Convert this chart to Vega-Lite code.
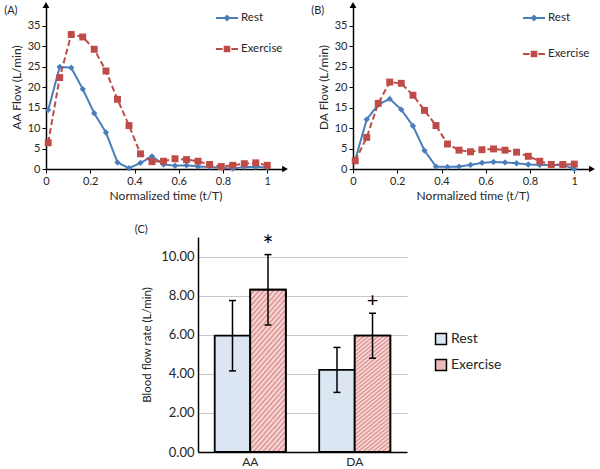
{
  "$schema": "https://vega.github.io/schema/vega-lite/v6.json",
  "padding": {"left": 4, "top": 2, "right": 1, "bottom": 2},
  "config": {
    "font": "Lato",
    "view": {"stroke": null},
    "axis": {"labelFont": "Lato", "titleFont": "Lato", "titleFontWeight": "normal", "labelColor": "#262626", "titleColor": "#262626", "domainColor": "#000", "tickColor": "#000", "domainWidth": 1.5, "labelOverlap": false},
    "legend": {"labelFont": "Lato", "labelColor": "#262626"},
    "title": {"font": "Lato", "fontWeight": "normal", "fontSize": 11, "color": "#262626"}
  },
  "datasets": {
    "flow": [
      {"panel": "AA", "series": "Rest", "t": 0.01, "v": 14.4},
      {"panel": "AA", "series": "Rest", "t": 0.062, "v": 24.9},
      {"panel": "AA", "series": "Rest", "t": 0.114, "v": 24.7},
      {"panel": "AA", "series": "Rest", "t": 0.166, "v": 19.5},
      {"panel": "AA", "series": "Rest", "t": 0.218, "v": 13.6},
      {"panel": "AA", "series": "Rest", "t": 0.271, "v": 8.9},
      {"panel": "AA", "series": "Rest", "t": 0.323, "v": 1.6},
      {"panel": "AA", "series": "Rest", "t": 0.375, "v": 0.2},
      {"panel": "AA", "series": "Rest", "t": 0.427, "v": 1.5},
      {"panel": "AA", "series": "Rest", "t": 0.479, "v": 3.1},
      {"panel": "AA", "series": "Rest", "t": 0.531, "v": 1.1},
      {"panel": "AA", "series": "Rest", "t": 0.583, "v": 0.8},
      {"panel": "AA", "series": "Rest", "t": 0.635, "v": 0.9},
      {"panel": "AA", "series": "Rest", "t": 0.687, "v": 0.6},
      {"panel": "AA", "series": "Rest", "t": 0.739, "v": 0.5},
      {"panel": "AA", "series": "Rest", "t": 0.792, "v": 0.3},
      {"panel": "AA", "series": "Rest", "t": 0.844, "v": 0.1},
      {"panel": "AA", "series": "Rest", "t": 0.896, "v": 0.5},
      {"panel": "AA", "series": "Rest", "t": 0.948, "v": 0.5},
      {"panel": "AA", "series": "Rest", "t": 1.0, "v": 0.4},
      {"panel": "AA", "series": "Exercise", "t": 0.01, "v": 6.4},
      {"panel": "AA", "series": "Exercise", "t": 0.062, "v": 22.3},
      {"panel": "AA", "series": "Exercise", "t": 0.114, "v": 32.8},
      {"panel": "AA", "series": "Exercise", "t": 0.166, "v": 32.2},
      {"panel": "AA", "series": "Exercise", "t": 0.218, "v": 29.2},
      {"panel": "AA", "series": "Exercise", "t": 0.271, "v": 23.9},
      {"panel": "AA", "series": "Exercise", "t": 0.323, "v": 17.0},
      {"panel": "AA", "series": "Exercise", "t": 0.375, "v": 10.6},
      {"panel": "AA", "series": "Exercise", "t": 0.427, "v": 3.7},
      {"panel": "AA", "series": "Exercise", "t": 0.479, "v": 1.8},
      {"panel": "AA", "series": "Exercise", "t": 0.531, "v": 1.9},
      {"panel": "AA", "series": "Exercise", "t": 0.583, "v": 2.5},
      {"panel": "AA", "series": "Exercise", "t": 0.635, "v": 2.3},
      {"panel": "AA", "series": "Exercise", "t": 0.687, "v": 1.9},
      {"panel": "AA", "series": "Exercise", "t": 0.739, "v": 1.1},
      {"panel": "AA", "series": "Exercise", "t": 0.792, "v": 0.6},
      {"panel": "AA", "series": "Exercise", "t": 0.844, "v": 0.9},
      {"panel": "AA", "series": "Exercise", "t": 0.896, "v": 1.3},
      {"panel": "AA", "series": "Exercise", "t": 0.948, "v": 1.5},
      {"panel": "AA", "series": "Exercise", "t": 1.0, "v": 0.9},
      {"panel": "DA", "series": "Rest", "t": 0.01, "v": 2.2},
      {"panel": "DA", "series": "Rest", "t": 0.062, "v": 12.1},
      {"panel": "DA", "series": "Rest", "t": 0.114, "v": 15.7},
      {"panel": "DA", "series": "Rest", "t": 0.166, "v": 17.1},
      {"panel": "DA", "series": "Rest", "t": 0.218, "v": 14.5},
      {"panel": "DA", "series": "Rest", "t": 0.271, "v": 10.5},
      {"panel": "DA", "series": "Rest", "t": 0.323, "v": 4.5},
      {"panel": "DA", "series": "Rest", "t": 0.375, "v": 0.6},
      {"panel": "DA", "series": "Rest", "t": 0.427, "v": 0.5},
      {"panel": "DA", "series": "Rest", "t": 0.479, "v": 0.6},
      {"panel": "DA", "series": "Rest", "t": 0.531, "v": 1.0},
      {"panel": "DA", "series": "Rest", "t": 0.583, "v": 1.5},
      {"panel": "DA", "series": "Rest", "t": 0.635, "v": 1.7},
      {"panel": "DA", "series": "Rest", "t": 0.687, "v": 1.6},
      {"panel": "DA", "series": "Rest", "t": 0.739, "v": 1.4},
      {"panel": "DA", "series": "Rest", "t": 0.792, "v": 1.1},
      {"panel": "DA", "series": "Rest", "t": 0.844, "v": 1.0},
      {"panel": "DA", "series": "Rest", "t": 0.896, "v": 1.0},
      {"panel": "DA", "series": "Rest", "t": 0.948, "v": 1.0},
      {"panel": "DA", "series": "Rest", "t": 1.0, "v": 0.0},
      {"panel": "DA", "series": "Exercise", "t": 0.01, "v": 2.0},
      {"panel": "DA", "series": "Exercise", "t": 0.062, "v": 7.7},
      {"panel": "DA", "series": "Exercise", "t": 0.114, "v": 16.0},
      {"panel": "DA", "series": "Exercise", "t": 0.166, "v": 21.2},
      {"panel": "DA", "series": "Exercise", "t": 0.218, "v": 20.9},
      {"panel": "DA", "series": "Exercise", "t": 0.271, "v": 18.0},
      {"panel": "DA", "series": "Exercise", "t": 0.323, "v": 14.3},
      {"panel": "DA", "series": "Exercise", "t": 0.375, "v": 10.6},
      {"panel": "DA", "series": "Exercise", "t": 0.427, "v": 6.1},
      {"panel": "DA", "series": "Exercise", "t": 0.479, "v": 4.6},
      {"panel": "DA", "series": "Exercise", "t": 0.531, "v": 4.2},
      {"panel": "DA", "series": "Exercise", "t": 0.583, "v": 4.7},
      {"panel": "DA", "series": "Exercise", "t": 0.635, "v": 4.9},
      {"panel": "DA", "series": "Exercise", "t": 0.687, "v": 4.6},
      {"panel": "DA", "series": "Exercise", "t": 0.739, "v": 4.1},
      {"panel": "DA", "series": "Exercise", "t": 0.792, "v": 3.1},
      {"panel": "DA", "series": "Exercise", "t": 0.844, "v": 1.9},
      {"panel": "DA", "series": "Exercise", "t": 0.896, "v": 1.1},
      {"panel": "DA", "series": "Exercise", "t": 0.948, "v": 1.1},
      {"panel": "DA", "series": "Exercise", "t": 1.0, "v": 1.2}
    ],
    "arrows": [
      {"t": 1.08, "v": 0, "dir": "triangle-right"},
      {"t": 0, "v": 40, "dir": "triangle-up"}
    ],
    "bars": [
      {"cat": "AA", "series": "Rest", "mean": 5.95, "lo": 4.15, "hi": 7.75},
      {"cat": "AA", "series": "Exercise", "mean": 8.3, "lo": 6.5, "hi": 10.1},
      {"cat": "DA", "series": "Rest", "mean": 4.2, "lo": 3.05, "hi": 5.35},
      {"cat": "DA", "series": "Exercise", "mean": 5.95, "lo": 4.8, "hi": 7.1}
    ],
    "sig": [
      {"cat": "AA", "series": "Exercise", "pos": 10.5, "label": "*", "fs": "big"},
      {"cat": "DA", "series": "Exercise", "pos": 7.75, "label": "+", "fs": "small"}
    ]
  },
  "resolve": {
    "scale": {"color": "independent", "fill": "independent", "strokeDash": "independent"},
    "legend": {"color": "independent", "fill": "independent", "strokeDash": "independent"}
  },
  "vconcat": [
    {
      "resolve": {
        "scale": {"color": "independent", "strokeDash": "independent"},
        "legend": {"color": "independent", "strokeDash": "independent"}
      },
      "hconcat": [
        {
          "width": 239,
          "height": 164,
          "title": {"text": "(A)", "anchor": "start", "frame": "bounds", "offset": -14, "dx": -6},
          "transform": [{"filter": "datum.panel === 'AA'"}],
          "data": {"name": "flow"},
          "encoding": {
            "x": {"field": "t", "type": "quantitative", "scale": {"domain": [0, 1.08], "nice": false}, "axis": {"values": [0, 0.2, 0.4, 0.6, 0.8, 1], "format": "~g", "title": "Normalized time (t/T)", "grid": false, "tickSize": 4, "labelFontSize": 11, "titleFontSize": 12, "labelFlush": false}},
            "y": {"field": "v", "type": "quantitative", "scale": {"domain": [0, 40], "nice": false}, "axis": {"values": [0, 5, 10, 15, 20, 25, 30, 35], "tickCount": 8, "labelOverlap": false, "title": "AA Flow (L/min)", "grid": false, "tickSize": 4, "labelFontSize": 11, "titleFontSize": 12}}
          },
          "layer": [
            {
              "mark": {"type": "line", "strokeWidth": 2},
              "encoding": {
                "color": {"field": "series", "type": "nominal", "scale": {"domain": ["Rest", "Exercise"], "range": ["#4A7EBB", "#BE4B48"]},
                  "legend": {"title": null, "orient": "top-right", "offset": 2, "symbolSize": 484, "rowPadding": 14, "labelFontSize": 11.5, "labelOffset": 3,
                    "encode": {"symbols": {"update": {
                      "shape": {"signal": "datum.value === 'Rest' ? 'M-1,-0.09H1V0.09H-1Z M0,-0.32L0.32,0L0,0.32L-0.32,0Z' : 'M-1,-0.09H-0.4V0.09H-1Z M0.4,-0.09H1V0.09H0.4Z M-0.3,-0.3H0.3V0.3H-0.3Z'"},
                      "size": {"value": 484},
                      "fill": {"signal": "datum.value === 'Rest' ? '#4A7EBB' : '#BE4B48'"},
                      "strokeWidth": {"value": 0},
                      "opacity": {"value": 1}}}}}},
                "strokeDash": {"field": "series", "type": "nominal", "scale": {"domain": ["Rest", "Exercise"], "range": [[1, 0], [6, 3]]}, "legend": null}
              }
            },
            {
              "transform": [{"filter": "datum.series === 'Rest'"}],
              "mark": {"type": "point", "filled": true, "opacity": 1, "shape": "diamond", "size": 40},
              "encoding": {"color": {"field": "series", "type": "nominal"}}
            },
            {
              "transform": [{"filter": "datum.series === 'Exercise'"}],
              "mark": {"type": "point", "filled": true, "opacity": 1, "shape": "square", "size": 48},
              "encoding": {"color": {"field": "series", "type": "nominal"}}
            },
            {
              "data": {"name": "arrows"},
              "mark": {"type": "point", "filled": true, "color": "#000", "opacity": 1, "size": 45},
              "encoding": {"shape": {"field": "dir", "type": "nominal", "scale": null}}
            }
          ]
        },
        {
          "width": 239,
          "height": 164,
          "title": {"text": "(B)", "anchor": "start", "frame": "bounds", "offset": -14, "dx": -6},
          "transform": [{"filter": "datum.panel === 'DA'"}],
          "data": {"name": "flow"},
          "encoding": {
            "x": {"field": "t", "type": "quantitative", "scale": {"domain": [0, 1.08], "nice": false}, "axis": {"values": [0, 0.2, 0.4, 0.6, 0.8, 1], "format": "~g", "title": "Normalized time (t/T)", "grid": false, "tickSize": 4, "labelFontSize": 11, "titleFontSize": 12, "labelFlush": false}},
            "y": {"field": "v", "type": "quantitative", "scale": {"domain": [0, 40], "nice": false}, "axis": {"values": [0, 5, 10, 15, 20, 25, 30, 35], "tickCount": 8, "labelOverlap": false, "title": "DA Flow (L/min)", "grid": false, "tickSize": 4, "labelFontSize": 11, "titleFontSize": 12}}
          },
          "layer": [
            {
              "mark": {"type": "line", "strokeWidth": 2},
              "encoding": {
                "color": {"field": "series", "type": "nominal", "scale": {"domain": ["Rest", "Exercise"], "range": ["#4A7EBB", "#BE4B48"]},
                  "legend": {"title": null, "orient": "top-right", "offset": 2, "symbolSize": 484, "rowPadding": 19, "labelFontSize": 11.5, "labelOffset": 3,
                    "encode": {"symbols": {"update": {
                      "shape": {"signal": "datum.value === 'Rest' ? 'M-1,-0.09H1V0.09H-1Z M0,-0.32L0.32,0L0,0.32L-0.32,0Z' : 'M-1,-0.09H-0.4V0.09H-1Z M0.4,-0.09H1V0.09H0.4Z M-0.3,-0.3H0.3V0.3H-0.3Z'"},
                      "size": {"value": 484},
                      "fill": {"signal": "datum.value === 'Rest' ? '#4A7EBB' : '#BE4B48'"},
                      "strokeWidth": {"value": 0},
                      "opacity": {"value": 1}}}}}},
                "strokeDash": {"field": "series", "type": "nominal", "scale": {"domain": ["Rest", "Exercise"], "range": [[1, 0], [6, 3]]}, "legend": null}
              }
            },
            {
              "transform": [{"filter": "datum.series === 'Rest'"}],
              "mark": {"type": "point", "filled": true, "opacity": 1, "shape": "diamond", "size": 40},
              "encoding": {"color": {"field": "series", "type": "nominal"}}
            },
            {
              "transform": [{"filter": "datum.series === 'Exercise'"}],
              "mark": {"type": "point", "filled": true, "opacity": 1, "shape": "square", "size": 48},
              "encoding": {"color": {"field": "series", "type": "nominal"}}
            },
            {
              "data": {"name": "arrows"},
              "mark": {"type": "point", "filled": true, "color": "#000", "opacity": 1, "size": 45},
              "encoding": {"shape": {"field": "dir", "type": "nominal", "scale": null}}
            }
          ]
        }
      ],
      "spacing": 23
    },
    {
      "hconcat": [
        {
          "width": 78,
          "height": 10,
          "data": {"values": [{}]},
          "mark": {"type": "point", "opacity": 0}
        },
        {
          "width": 209,
          "height": 215,
          "title": {"text": "(C)", "anchor": "start", "frame": "bounds", "offset": -1, "dx": -7},
          "data": {"name": "bars"},
          "encoding": {
            "x": {"field": "cat", "type": "nominal", "scale": {"paddingInner": 0.32, "paddingOuter": 0.16}, "axis": {"title": null, "labelAngle": 0, "ticks": false, "labelFontSize": 12, "labelPadding": 4}},
            "xOffset": {"field": "series", "type": "nominal", "scale": {"domain": ["Rest", "Exercise"], "paddingInner": 0, "paddingOuter": 0}},
            "y": {"field": "mean", "type": "quantitative", "scale": {"domain": [0, 11], "nice": false}, "axis": {"values": [0, 2, 4, 6, 8, 10], "format": ".2f", "title": "Blood flow rate (L/min)", "grid": true, "gridColor": "#c6c6c6", "gridWidth": 1, "ticks": false, "labelFontSize": 13, "titleFontSize": 11.5, "labelPadding": 4, "titlePadding": 8}}
          },
          "layer": [
            {
              "mark": {"type": "bar", "stroke": "#000", "strokeWidth": 1.8},
              "encoding": {
                "fill": {"field": "series", "type": "nominal", "scale": {"domain": ["Rest", "Exercise"], "range": ["#dce6f3", "#ebb9b8"]},
                  "legend": {"title": null, "orient": "none", "legendX": 388, "legendY": 95, "symbolType": "square", "symbolSize": 120, "symbolStrokeColor": "#000", "symbolStrokeWidth": 1.5, "labelFontSize": 14, "rowPadding": 8, "labelOffset": 3}}
              }
            },
            {
              "transform": [{"filter": "datum.series === 'Exercise'"}],
              "mark": {"type": "bar", "stroke": "#000", "strokeWidth": 1.8,
                "fill": {"gradient": "linear", "x1": 0, "y1": 0, "x2": 1, "y2": 4, "stops": [
                  {"offset": 0, "color": "#dc8f8d"}, {"offset": 0.004, "color": "#fbe6e5"},
                  {"offset": 0.008, "color": "#dc8f8d"}, {"offset": 0.012, "color": "#fbe6e5"},
                  {"offset": 0.016, "color": "#dc8f8d"}, {"offset": 0.02, "color": "#fbe6e5"},
                  {"offset": 0.024, "color": "#dc8f8d"}, {"offset": 0.028, "color": "#fbe6e5"},
                  {"offset": 0.032, "color": "#dc8f8d"}, {"offset": 0.036, "color": "#fbe6e5"},
                  {"offset": 0.04, "color": "#dc8f8d"}, {"offset": 0.044, "color": "#fbe6e5"},
                  {"offset": 0.048, "color": "#dc8f8d"}, {"offset": 0.052, "color": "#fbe6e5"},
                  {"offset": 0.056, "color": "#dc8f8d"}, {"offset": 0.06, "color": "#fbe6e5"},
                  {"offset": 0.064, "color": "#dc8f8d"}, {"offset": 0.068, "color": "#fbe6e5"},
                  {"offset": 0.072, "color": "#dc8f8d"}, {"offset": 0.076, "color": "#fbe6e5"},
                  {"offset": 0.08, "color": "#dc8f8d"}, {"offset": 0.084, "color": "#fbe6e5"},
                  {"offset": 0.088, "color": "#dc8f8d"}, {"offset": 0.092, "color": "#fbe6e5"},
                  {"offset": 0.096, "color": "#dc8f8d"}, {"offset": 0.1, "color": "#fbe6e5"},
                  {"offset": 0.104, "color": "#dc8f8d"}, {"offset": 0.108, "color": "#fbe6e5"},
                  {"offset": 0.112, "color": "#dc8f8d"}, {"offset": 0.116, "color": "#fbe6e5"},
                  {"offset": 0.12, "color": "#dc8f8d"}, {"offset": 0.124, "color": "#fbe6e5"},
                  {"offset": 0.128, "color": "#dc8f8d"}, {"offset": 0.132, "color": "#fbe6e5"},
                  {"offset": 0.136, "color": "#dc8f8d"}, {"offset": 0.14, "color": "#fbe6e5"},
                  {"offset": 0.144, "color": "#dc8f8d"}, {"offset": 0.148, "color": "#fbe6e5"},
                  {"offset": 0.152, "color": "#dc8f8d"}, {"offset": 0.156, "color": "#fbe6e5"},
                  {"offset": 0.16, "color": "#dc8f8d"}, {"offset": 0.164, "color": "#fbe6e5"},
                  {"offset": 0.168, "color": "#dc8f8d"}, {"offset": 0.172, "color": "#fbe6e5"},
                  {"offset": 0.176, "color": "#dc8f8d"}, {"offset": 0.18, "color": "#fbe6e5"},
                  {"offset": 0.184, "color": "#dc8f8d"}, {"offset": 0.188, "color": "#fbe6e5"},
                  {"offset": 0.192, "color": "#dc8f8d"}, {"offset": 0.196, "color": "#fbe6e5"},
                  {"offset": 0.2, "color": "#dc8f8d"}, {"offset": 0.204, "color": "#fbe6e5"},
                  {"offset": 0.208, "color": "#dc8f8d"}, {"offset": 0.212, "color": "#fbe6e5"},
                  {"offset": 0.216, "color": "#dc8f8d"}, {"offset": 0.22, "color": "#fbe6e5"},
                  {"offset": 0.224, "color": "#dc8f8d"}, {"offset": 0.228, "color": "#fbe6e5"},
                  {"offset": 0.232, "color": "#dc8f8d"}, {"offset": 0.236, "color": "#fbe6e5"},
                  {"offset": 0.24, "color": "#dc8f8d"}, {"offset": 0.244, "color": "#fbe6e5"},
                  {"offset": 0.248, "color": "#dc8f8d"}, {"offset": 0.252, "color": "#fbe6e5"},
                  {"offset": 0.256, "color": "#dc8f8d"}, {"offset": 0.26, "color": "#fbe6e5"},
                  {"offset": 0.264, "color": "#dc8f8d"}, {"offset": 0.268, "color": "#fbe6e5"},
                  {"offset": 0.272, "color": "#dc8f8d"}, {"offset": 0.276, "color": "#fbe6e5"},
                  {"offset": 0.28, "color": "#dc8f8d"}, {"offset": 0.284, "color": "#fbe6e5"},
                  {"offset": 0.288, "color": "#dc8f8d"}, {"offset": 0.292, "color": "#fbe6e5"},
                  {"offset": 0.296, "color": "#dc8f8d"}, {"offset": 1, "color": "#dc8f8d"}
                ]}}
            },
            {
              "mark": {"type": "rule", "strokeWidth": 1.5, "color": "#000"},
              "encoding": {
                "y": {"field": "lo", "type": "quantitative"},
                "y2": {"field": "hi"}
              }
            },
            {
              "mark": {"type": "tick", "color": "#000", "size": 7, "thickness": 1.5, "opacity": 1},
              "encoding": {"y": {"field": "lo", "type": "quantitative"}}
            },
            {
              "mark": {"type": "tick", "color": "#000", "size": 7, "thickness": 1.5, "opacity": 1},
              "encoding": {"y": {"field": "hi", "type": "quantitative"}}
            },
            {
              "data": {"name": "sig"},
              "mark": {"type": "text", "color": "#000"},
              "encoding": {
                "y": {"field": "pos", "type": "quantitative"},
                "text": {"field": "label"},
                "size": {"field": "fs", "type": "nominal", "scale": {"domain": ["big", "small"], "range": [26, 20]}, "legend": null}
              }
            }
          ]
        }
      ],
      "spacing": 10
    }
  ],
  "spacing": 22
}
